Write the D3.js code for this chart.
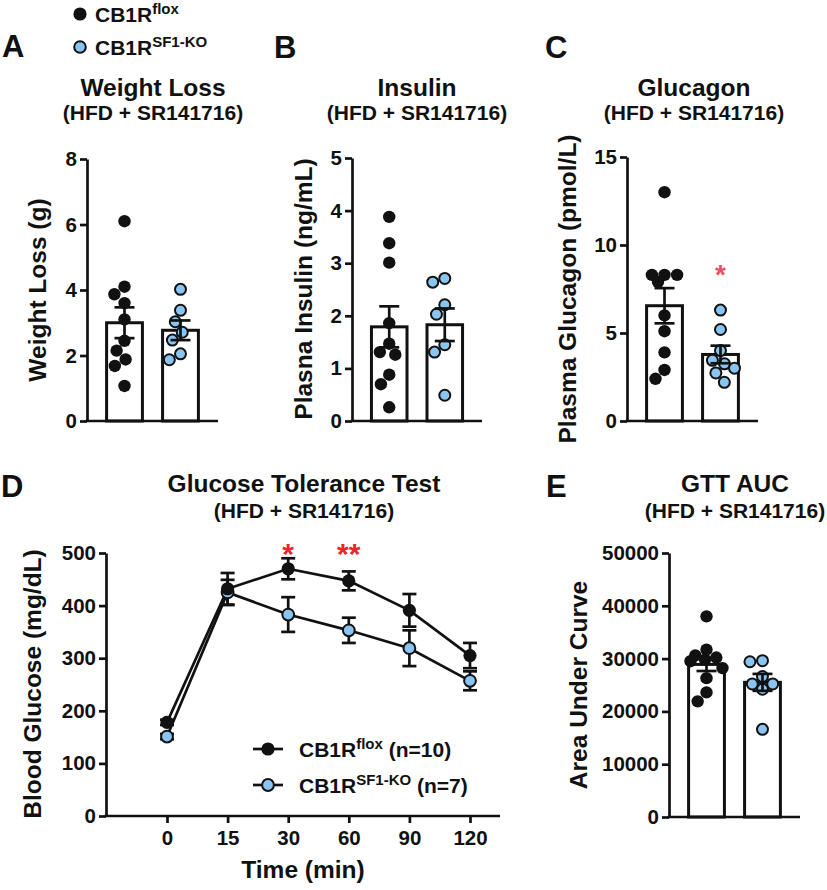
<!DOCTYPE html>
<html><head><meta charset="utf-8">
<script src="https://cdn.jsdelivr.net/npm/d3@7"></script>
<style>
body{margin:0;background:#fff}
svg{display:block}
text{font-family:"Liberation Sans",Arial,Helvetica,sans-serif;font-weight:bold;fill:#111}
</style>
</head><body>
<svg id="c" width="827" height="890"></svg>
<script>
// ---------------- DATA ----------------
const groups = ["CB1Rflox", "CB1RSF1-KO"];

const weightLossFlox = [6.1, 4.1, 3.87, 3.6, 3.1, 2.45, 2.15, 1.88, 1.68, 1.07];
const weightLossKO   = [4.02, 3.38, 3.03, 2.71, 2.47, 2.05, 1.87];
const weightLossMean = [3.0, 2.77];
const weightLossSem  = [0.47, 0.30];
const weightLossTicks = [0, 2, 4, 6, 8];

const insulinFlox = [3.88, 3.38, 3.01, 1.86, 1.47, 1.31, 1.26, 0.88, 0.70, 0.26];
const insulinKO   = [2.71, 2.64, 2.21, 2.03, 1.45, 1.31, 0.49];
const insulinMean = [1.79, 1.83];
const insulinSem  = [0.39, 0.31];
const insulinTicks = [0, 1, 2, 3, 4, 5];

const glucagonFlox = [13.0, 8.3, 8.3, 8.3, 7.9, 6.0, 5.1, 3.9, 2.9, 2.4];
const glucagonKO   = [6.3, 5.2, 4.0, 3.45, 3.25, 3.0, 2.73, 2.2];
const glucagonMean = [6.55, 3.78];
const glucagonSem  = [1.0, 0.5];
const glucagonTicks = [0, 5, 10, 15];

const gttTimes    = ["0", "15", "30", "60", "90", "120"];
const gttFloxMean = [178, 432, 470, 447, 391, 305];
const gttFloxSem  = [5, 30, 20, 18, 31, 24];
const gttKOMean   = [151, 425, 383, 353, 319, 257];
const gttKOSem    = [5, 24, 33, 24, 34, 18];
const gttStars    = ["", "", "*", "**", "", ""];
const gttTicks    = [0, 100, 200, 300, 400, 500];

const aucFlox = [38000, 31700, 30600, 30200, 29800, 29500, 28200, 26300, 23600, 21900];
const aucKO   = [29600, 29400, 26600, 25200, 25200, 24200, 16600];
const aucMean = [28900, 25500];
const aucSem  = [1250, 1600];
const aucTicks = [0, 10000, 20000, 30000, 40000, 50000];

// ---------------- STYLE ----------------
const BLUE = "#8ac5f2";
const FONT_TICK = 20.5;
const svg = d3.select("#c");

function swarm(vals, y, r, maxOff) {
  const D = 2 * r + 1;
  const pts = vals.map(v => ({ v, y: y(v), x: 0 }));
  const order = pts.slice().sort((a, b) => a.y - b.y);
  const placed = [];
  for (const p of order) {
    const near = placed.filter(q => Math.abs(q.y - p.y) < D);
    const cands = [0];
    near.forEach(q => {
      const dx = Math.sqrt(D * D - (q.y - p.y) ** 2);
      cands.push(q.x - dx, q.x + dx);
    });
    const ok = cands.filter(c => Math.abs(c) <= maxOff + 1e-6 &&
      near.every(q => Math.hypot(q.x - c, q.y - p.y) >= D - 1e-6));
    if (ok.length) {
      ok.sort((a, b) => Math.abs(a) - Math.abs(b) || a - b);
      p.x = ok[0];
    } else {
      let best = 0, bestD = -1;
      for (let c = -maxOff; c <= maxOff; c += 0.5) {
        const m = Math.min(...near.map(q => Math.hypot(q.x - c, q.y - p.y)));
        if (m > bestD) { bestD = m; best = c; }
      }
      p.x = best;
    }
    placed.push(p);
  }
  return pts;
}

function styleAxis(g) {
  g.select(".domain").attr("stroke", "#111").attr("stroke-width", 2.7);
  g.selectAll(".tick line").attr("stroke", "#111").attr("stroke-width", 2.7);
  g.selectAll(".tick text").style("font-size", FONT_TICK + "px").style("font-weight", "bold")
    .style("font-family", '"Liberation Sans",Arial,sans-serif').attr("fill", "#111");
}

function titles(cx, title, y1, y2) {
  svg.append("text").attr("x", cx).attr("y", y1).attr("text-anchor", "middle")
    .style("font-size", "24.5px").text(title);
  svg.append("text").attr("x", cx).attr("y", y2).attr("text-anchor", "middle")
    .style("font-size", "21px").text("(HFD + SR141716)");
}

function yLabel(x, y, label) {
  svg.append("text").attr("transform", `translate(${x},${y}) rotate(-90)`)
    .attr("text-anchor", "middle").attr("dominant-baseline", "central")
    .style("font-size", "24.5px").text(label);
}

function panelLetter(x, y, L) {
  svg.append("text").attr("x", x).attr("y", y).style("font-size", "31px").text(L);
}

function barPanel(c) {
  const y = d3.scaleLinear().domain([0, c.max]).range([c.yBot, c.yTop]);
  const x = d3.scaleBand().domain(groups).range([c.x0, c.x1]).paddingInner(0.36).paddingOuter(0.35);
  const g = svg.append("g");
  g.selectAll("rect.bar").data(groups).join("rect")
    .attr("x", d => x(d)).attr("width", x.bandwidth())
    .attr("y", (d, i) => y(c.mean[i])).attr("height", (d, i) => c.yBot - y(c.mean[i]))
    .attr("fill", "#fff").attr("stroke", "#111").attr("stroke-width", 3);
  const sets = [c.flox, c.ko];
  sets.forEach((vals, i) => {
    const cx = x(groups[i]) + x.bandwidth() / 2;
    const pts = swarm(vals, y, 5.8, c.maxOff || 14);
    g.selectAll(null).data(pts).join("circle")
      .attr("cx", d => cx + d.x).attr("cy", d => d.y).attr("r", i === 0 ? 6.2 : 5.5)
      .attr("fill", i === 0 ? "#111" : BLUE)
      .attr("stroke", "#111").attr("stroke-width", i === 0 ? 0 : 2);
  });
  groups.forEach((gname, i) => {
    const cx = x(gname) + x.bandwidth() / 2;
    const top = y(c.mean[i] + c.sem[i]), bot = y(c.mean[i] - c.sem[i]);
    g.append("line").attr("x1", cx).attr("x2", cx).attr("y1", top).attr("y2", bot)
      .attr("stroke", "#111").attr("stroke-width", 2.7);
    [top, bot].forEach(yy => g.append("line").attr("x1", cx - 10).attr("x2", cx + 10)
      .attr("y1", yy).attr("y2", yy).attr("stroke", "#111").attr("stroke-width", 2.7));
  });
  const ya = svg.append("g").attr("transform", `translate(${c.x0},0)`)
    .call(d3.axisLeft(y).tickValues(c.ticks).tickSize(7).tickSizeOuter(0).tickPadding(c.pad || 3)
      .tickFormat(d3.format("d")));
  styleAxis(ya);
  svg.append("line").attr("x1", c.x0 - 1.3).attr("x2", c.x1).attr("y1", c.yBot).attr("y2", c.yBot)
    .attr("stroke", "#111").attr("stroke-width", 2.7);
  if (c.star) {
    svg.append("text").attr("x", x(groups[1]) + x.bandwidth() / 2).attr("y", c.starY)
      .attr("text-anchor", "middle").style("font-size", "28px").style("fill", "#e8506a").text("*");
  }
  return { x, y };
}

// ---------------- TOP LEGEND ----------------
const legendRows = [{ sup: "flox", fill: "#111", sw: 0 }, { sup: "SF1-KO", fill: BLUE, sw: 2 }];
legendRows.forEach((d, i) => {
  const yy = 14 + i * 33;
  svg.append("circle").attr("cx", 80).attr("cy", yy).attr("r", d.sw ? 5.8 : 6.6)
    .attr("fill", d.fill).attr("stroke", "#111").attr("stroke-width", d.sw);
  const t = svg.append("text").attr("x", 95).attr("y", yy + 8).style("font-size", "21px");
  t.append("tspan").text("CB1R");
  t.append("tspan").attr("dy", -8).style("font-size", "15px").text(d.sup);
});

// ---------------- LETTERS & TITLES ----------------
panelLetter(2, 57, "A");
panelLetter(274, 58, "B");
panelLetter(545, 58, "C");
panelLetter(1, 497, "D");
panelLetter(546, 497, "E");

titles(153, "Weight Loss", 96, 120);
titles(417, "Insulin", 96, 120);
titles(694, "Glucagon", 96, 120);
titles(304, "Glucose Tolerance Test", 492, 518);
titles(735, "GTT AUC", 492, 518);

// ---------------- PANELS A, B, C, E ----------------
barPanel({ x0: 87, x1: 218, yTop: 159, yBot: 421, max: 8, ticks: weightLossTicks,
  flox: weightLossFlox, ko: weightLossKO, mean: weightLossMean, sem: weightLossSem });
yLabel(37, 290, "Weight Loss (g)");

barPanel({ x0: 352, x1: 482, yTop: 158, yBot: 421, max: 5, ticks: insulinTicks,
  flox: insulinFlox, ko: insulinKO, mean: insulinMean, sem: insulinSem });
yLabel(303, 289, "Plasna Insulin (ng/mL)");

barPanel({ x0: 627, x1: 758, yTop: 157, yBot: 421, max: 15, ticks: glucagonTicks,
  flox: glucagonFlox, ko: glucagonKO, mean: glucagonMean, sem: glucagonSem, star: true, starY: 284 });
yLabel(567, 289, "Plasma Glucagon (pmol/L)");

barPanel({ x0: 669, x1: 800, yTop: 553, yBot: 817, max: 50000, ticks: aucTicks,
  flox: aucFlox, ko: aucKO, mean: aucMean, sem: aucSem, maxOff: 16, pad: 3 });
yLabel(578, 685, "Area Under Curve");

// ---------------- PANEL D ----------------
(function () {
  const yBot = 816, yTop = 553, xL = 106, xR = 500;
  const y = d3.scaleLinear().domain([0, 500]).range([yBot, yTop]);
  const x = d3.scalePoint().domain(gttTimes).range([167, 470]);
  const series = [
    { mean: gttKOMean, sem: gttKOSem, fill: BLUE, sw: 2 },
    { mean: gttFloxMean, sem: gttFloxSem, fill: "#111", sw: 0 }
  ];
  const line = d3.line().x((d, i) => x(gttTimes[i])).y(d => y(d));
  series.forEach(s => {
    svg.append("path").attr("d", line(s.mean)).attr("fill", "none")
      .attr("stroke", "#111").attr("stroke-width", 2.7);
  });
  series.forEach(s => {
    s.mean.forEach((m, i) => {
      const cx = x(gttTimes[i]);
      const t = y(m + s.sem[i]), b = y(m - s.sem[i]);
      svg.append("line").attr("x1", cx).attr("x2", cx).attr("y1", t).attr("y2", b)
        .attr("stroke", "#111").attr("stroke-width", 2.7);
      [t, b].forEach(yy => svg.append("line").attr("x1", cx - 7).attr("x2", cx + 7)
        .attr("y1", yy).attr("y2", yy).attr("stroke", "#111").attr("stroke-width", 2.7));
    });
  });
  series.forEach(s => {
    svg.selectAll(null).data(s.mean).join("circle")
      .attr("cx", (d, i) => x(gttTimes[i])).attr("cy", d => y(d))
      .attr("r", s.sw ? 5.9 : 6.6).attr("fill", s.fill)
      .attr("stroke", "#111").attr("stroke-width", s.sw);
  });
  gttStars.forEach((st, i) => {
    if (!st) return;
    svg.append("text").attr("x", x(gttTimes[i])).attr("y", 564).attr("text-anchor", "middle")
      .style("font-size", "30px").style("fill", "#e8262c").text(st);
  });
  const ya = svg.append("g").attr("transform", `translate(${xL},0)`)
    .call(d3.axisLeft(y).tickValues(gttTicks).tickSize(7).tickSizeOuter(0).tickPadding(3));
  styleAxis(ya);
  const xa = svg.append("g").attr("transform", `translate(0,${yBot})`)
    .call(d3.axisBottom(x).tickSize(7).tickSizeOuter(0).tickPadding(7));
  styleAxis(xa);
  xa.select(".domain").remove();
  svg.append("line").attr("x1", xL - 1.3).attr("x2", xR).attr("y1", yBot).attr("y2", yBot)
    .attr("stroke", "#111").attr("stroke-width", 2.7);
  yLabel(32, 684, "Blood Glucose (mg/dL)");
  svg.append("text").attr("x", 303).attr("y", 878).attr("text-anchor", "middle")
    .style("font-size", "24.5px").text("Time (min)");
  const leg = [{ sup: "flox", n: " (n=10)", fill: "#111", sw: 0 }, { sup: "SF1-KO", n: " (n=7)", fill: BLUE, sw: 2 }];
  leg.forEach((d, i) => {
    const yy = 749 + i * 36;
    svg.append("line").attr("x1", 253).attr("x2", 283).attr("y1", yy).attr("y2", yy)
      .attr("stroke", "#111").attr("stroke-width", 2.7);
    svg.append("circle").attr("cx", 268).attr("cy", yy).attr("r", d.sw ? 5.9 : 6.6)
      .attr("fill", d.fill).attr("stroke", "#111").attr("stroke-width", d.sw);
    const t = svg.append("text").attr("x", 299).attr("y", yy + 8).style("font-size", "21px");
    t.append("tspan").text("CB1R");
    t.append("tspan").attr("dy", -8).style("font-size", "15px").text(d.sup);
    t.append("tspan").attr("dy", 8).style("font-size", "21px").text(d.n);
  });
})();
</script>
</body></html>
